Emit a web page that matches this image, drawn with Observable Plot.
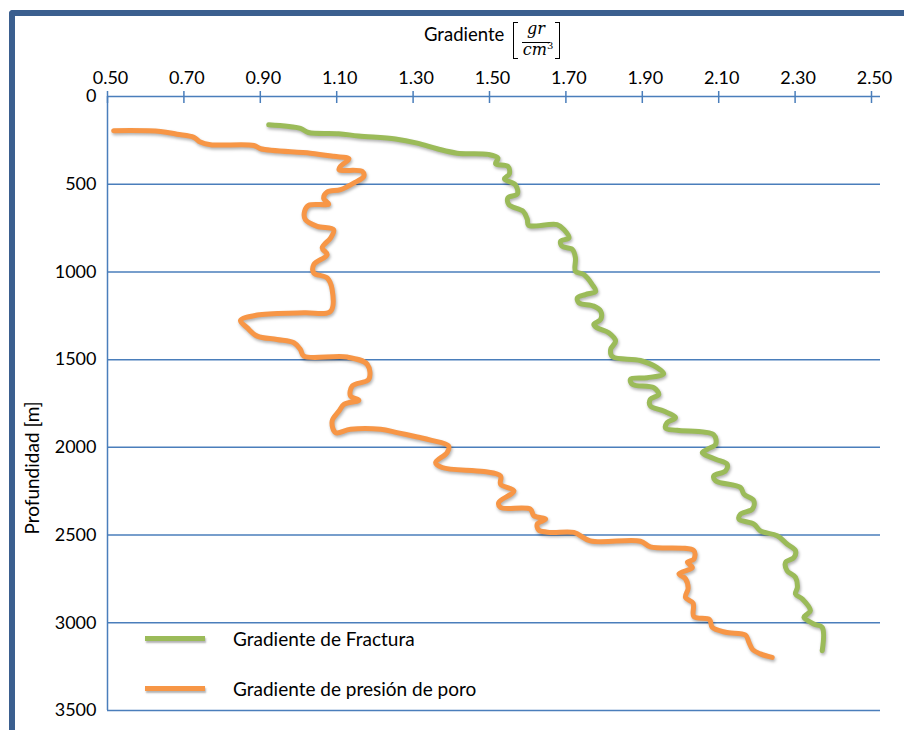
<!DOCTYPE html>
<html>
<head>
<meta charset="utf-8">
<script src="https://cdn.jsdelivr.net/npm/d3@7"></script>
<script src="https://cdn.jsdelivr.net/npm/@observablehq/plot@0.6"></script>
<style>
  html, body { margin: 0; padding: 0; background: #fff; overflow: hidden; }
  body { width: 904px; height: 730px; position: relative; font-family: Lato, "Noto Sans", sans-serif; color: #000; }
  #frame { position: absolute; left: 9px; top: 10px; width: 1000px; height: 1000px;
           border-left: 6px solid #3B5F8F; border-top: 6px solid #3B5F8F; border-top-left-radius: 4px; }
  #chart { position: absolute; left: 0; top: 0; }
  .abs { position: absolute; white-space: nowrap; }
  .math { font-family: "DejaVu Serif", "Liberation Serif", serif; font-style: italic; font-size: 16px; }
</style>
</head>
<body>
<div id="frame"></div>
<div id="chart"></div>

<div class="abs" style="left:424px; top:23px; font-size:18.5px;">Gradiente</div>
<div class="abs" style="left:513px; top:22px; width:4px; height:35px; border-left:1px solid #000; border-top:1px solid #000; border-bottom:1px solid #000;"></div>
<div class="abs math" style="left:522px; top:19px; width:28px; text-align:center;">gr</div>
<div class="abs" style="left:522px; top:42px; width:28px; height:0; border-top:1px solid #000;"></div>
<div class="abs math" style="left:520px; top:40px; width:36px; text-align:center;">cm<sup style="font-size:10px; font-style:normal;">3</sup></div>
<div class="abs" style="left:555px; top:22px; width:4px; height:35px; border-right:1px solid #000; border-top:1px solid #000; border-bottom:1px solid #000;"></div>

<div class="abs" id="ylab" style="left:31px; top:468px; font-size:19px; transform: translate(-50%,-50%) rotate(-90deg);">Profundidad [m]</div>

<div class="abs" style="left:145px; top:636px; width:60px; height:5px; background:#9BBB59; box-shadow:1px 2px 2px rgba(0,0,0,0.3);"></div>
<div class="abs" style="left:233px; top:627px; font-size:19px;">Gradiente de Fractura</div>
<div class="abs" style="left:145px; top:686px; width:60px; height:5px; background:#F79646; box-shadow:1px 2px 2px rgba(0,0,0,0.3);"></div>
<div class="abs" style="left:233px; top:677px; font-size:19px;">Gradiente de presión de poro</div>

<script>
// Axis ticks
const xTicks = [0.50, 0.70, 0.90, 1.10, 1.30, 1.50, 1.70, 1.90, 2.10, 2.30, 2.50];
const depthTicks = [0, 500, 1000, 1500, 2000, 2500, 3000, 3500];

// Gradiente de Fractura (gr/cm3) vs depth (m)
const fracGrad = [0.922,1.005,1.026,1.105,1.157,1.254,1.311,1.363,1.415,1.497,1.522,1.516,1.548,1.552,1.539,1.568,1.573,1.548,1.551,1.588,1.599,1.602,1.677,1.695,1.708,1.686,1.690,1.717,1.725,1.725,1.747,1.769,1.778,1.751,1.730,1.734,1.773,1.791,1.791,1.773,1.782,1.812,1.830,1.817,1.822,1.895,1.939,1.956,1.913,1.869,1.874,1.930,1.943,1.921,1.921,1.956,1.987,1.965,1.961,1.991,2.087,2.092,2.070,2.057,2.092,2.122,2.118,2.087,2.092,2.157,2.166,2.192,2.188,2.157,2.153,2.192,2.209,2.253,2.279,2.301,2.297,2.275,2.279,2.301,2.306,2.301,2.319,2.340,2.332,2.323,2.349,2.371,2.371];
const fracDepth = [161,182,205,212,225,242,266,298,323,330,351,384,398,441,470,504,555,578,617,654,700,734,730,759,806,825,854,872,920,996,1015,1072,1110,1129,1148,1176,1195,1224,1271,1299,1319,1347,1394,1442,1483,1505,1546,1580,1603,1612,1641,1660,1698,1726,1764,1793,1831,1859,1891,1903,1929,1982,2011,2030,2068,2096,2134,2163,2191,2229,2267,2305,2352,2381,2409,2437,2476,2504,2551,2589,2628,2656,2703,2741,2798,2836,2864,2931,2950,2969,3007,3026,3159];

// Gradiente de presión de poro (gr/cm3) vs depth (m)
const poroGrad = [0.516,0.639,0.682,0.726,0.743,0.770,0.883,0.901,1.031,1.092,1.132,1.110,1.106,1.167,1.171,1.145,1.110,1.075,1.066,1.079,1.027,1.016,1.018,1.049,1.092,1.084,1.062,1.075,1.040,1.040,1.075,1.088,1.084,1.014,0.892,0.848,0.866,0.892,0.944,0.988,1.005,1.014,1.127,1.180,1.184,1.141,1.136,1.158,1.119,1.106,1.088,1.097,1.136,1.215,1.258,1.311,1.346,1.393,1.389,1.359,1.376,1.485,1.529,1.529,1.564,1.524,1.529,1.607,1.616,1.647,1.625,1.629,1.660,1.721,1.764,1.895,1.921,2.035,2.035,2.018,2.031,1.996,2.013,2.020,2.013,2.033,2.035,2.076,2.083,2.118,2.170,2.179,2.189,2.209,2.240];
const poroDepth = [195,199,215,233,260,275,279,298,323,341,355,398,417,427,455,493,531,545,582,613,620,654,702,740,759,806,863,901,958,1006,1034,1100,1224,1233,1246,1277,1319,1366,1385,1404,1442,1480,1485,1527,1612,1650,1707,1732,1755,1793,1850,1916,1897,1897,1916,1941,1959,1992,2030,2087,2115,2138,2163,2210,2248,2315,2343,2352,2390,2409,2437,2472,2485,2485,2533,2535,2567,2589,2637,2655,2686,2720,2749,2803,2855,2888,2965,2982,3026,3054,3070,3110,3153,3177,3197];

const frac = fracGrad.map((g, i) => ({g, d: fracDepth[i]}));
const poro = poroGrad.map((g, i) => ({g, d: poroDepth[i]}));

const blue = "#4A7EBB";

const chart = Plot.plot({
  width: 904,
  height: 730,
  marginLeft: 107,
  marginRight: 24,
  marginTop: 96,
  marginBottom: 20,
  style: {fontFamily: "Lato, 'Noto Sans', sans-serif", fontSize: "18px", color: "#000", background: "transparent", overflow: "visible"},
  x: {domain: [0.5, 2.5], range: [107, 871], label: null},
  y: {domain: [0, 3500], reverse: true, label: null},
  marks: [
    Plot.ruleY(depthTicks, {stroke: blue, strokeWidth: 1.5}),
    Plot.ruleX([0.5], {stroke: blue, strokeWidth: 1.5}),
    Plot.axisX({anchor: "top", ticks: xTicks, tickSize: 12, dy: 6, tickFormat: () => "", stroke: blue, strokeWidth: 1.5, label: null}),
    Plot.axisX({anchor: "top", ticks: xTicks, tickSize: 0, tickPadding: 13, dx: 3, tickFormat: d3.format(".2f"), fill: "#000", label: null}),
    Plot.axisY({anchor: "left", ticks: depthTicks, tickSize: 0, tickPadding: 11, tickFormat: d => String(d), fill: "#000", label: null}),
    Plot.line(frac, {x: "g", y: "d", stroke: "#9BBB59", strokeWidth: 5, curve: "catmull-rom", strokeLinecap: "round", strokeLinejoin: "round"}),
    Plot.line(poro, {x: "g", y: "d", stroke: "#F79646", strokeWidth: 5, curve: "catmull-rom", strokeLinecap: "round", strokeLinejoin: "round"})
  ]
});
document.getElementById("chart").appendChild(chart);
chart.querySelectorAll('g[aria-label="line"]').forEach(g => {
  g.style.filter = "drop-shadow(1px 2px 1.5px rgba(0,0,0,0.3))";
});
</script>
</body>
</html>
